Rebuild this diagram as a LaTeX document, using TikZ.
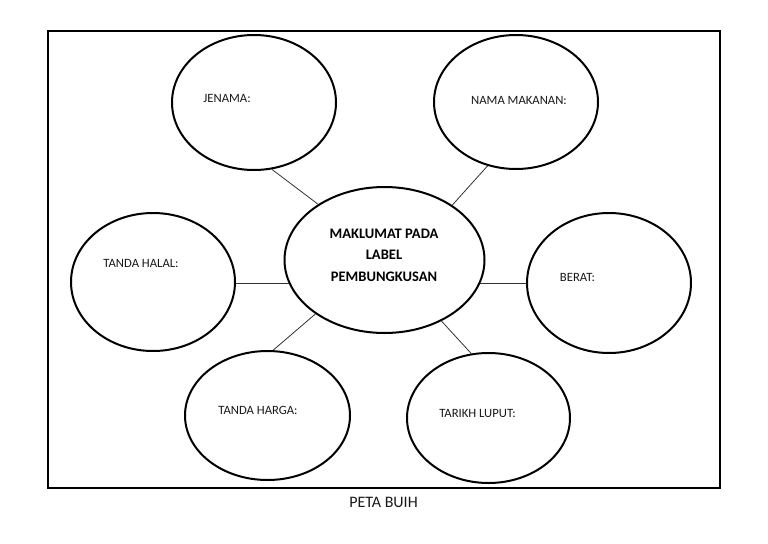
\documentclass[tikz,border=0pt]{standalone}
\usepackage{fontspec}
\setmainfont{Carlito}
\usetikzlibrary{shapes.geometric}
\tikzset{
  bubble/.style={draw=black, line width=1.5pt, ellipse, inner sep=0pt},
  lbl/.style={font=\fontsize{9.5}{11}\selectfont, text=black!90, inner sep=0pt},
  link/.style={draw=black!80, line width=0.6pt},
}
\begin{document}
\begin{tikzpicture}[x=0.75pt,y=-0.75pt]
\useasboundingbox (0,0) rectangle (768,543);
\draw[line width=1.5pt] (47.5,30.5) rectangle (719.5,488);

\node[bubble, minimum width=200pt*0.75, minimum height=146pt*0.75] (center) at (384.5,260) {};
\node[bubble, minimum width=164pt*0.75, minimum height=135pt*0.75] (jen) at (254,102.5) {};
\node[bubble, minimum width=164pt*0.75, minimum height=134pt*0.75] (nama) at (516,102) {};
\node[bubble, minimum width=164pt*0.75, minimum height=138pt*0.75] (halal) at (153,282) {};
\node[bubble, minimum width=164pt*0.75, minimum height=140pt*0.75] (berat) at (609,283) {};
\node[bubble, minimum width=165pt*0.75, minimum height=129pt*0.75] (harga) at (267.5,415.5) {};
\node[bubble, minimum width=163pt*0.75, minimum height=130pt*0.75] (tarikh) at (488.5,418) {};

\node[font=\bfseries\fontsize{10.9}{16.2}\selectfont, align=center, inner sep=0pt] (ctext) at (384,255) {MAKLUMAT PADA\\LABEL\\PEMBUNGKUSAN};
\node[lbl] (tjen) at (227,98) {JENAMA:};
\node[lbl] (tnama) at (519,100) {NAMA MAKANAN:};
\node[lbl] (thalal) at (141,263) {TANDA HALAL:};
\node[lbl] (tberat) at (577.5,277) {BERAT:};
\node[lbl] (tharga) at (258,410) {TANDA HARGA:};
\node[lbl] (ttarikh) at (477.5,413) {TARIKH LUPUT:};
\node[font=\fontsize{12}{14}\selectfont, text=black!90, inner sep=0pt] (cap) at (383.5,502) {PETA BUIH};

\draw[link] (jen.-75) -- (center.140.6);
\draw[link] (nama.-114.5) -- (center.39.4);
\draw[link] (halal.-1) -- (center.194 |- halal.-1);
\draw[link] (berat.180.7) -- (center.-14 |- berat.180.7);
\draw[link] (harga.85.2) -- (center.218.9);
\draw[link] (tarikh.105.9) -- (center.-47.2);
\end{tikzpicture}
\end{document}
